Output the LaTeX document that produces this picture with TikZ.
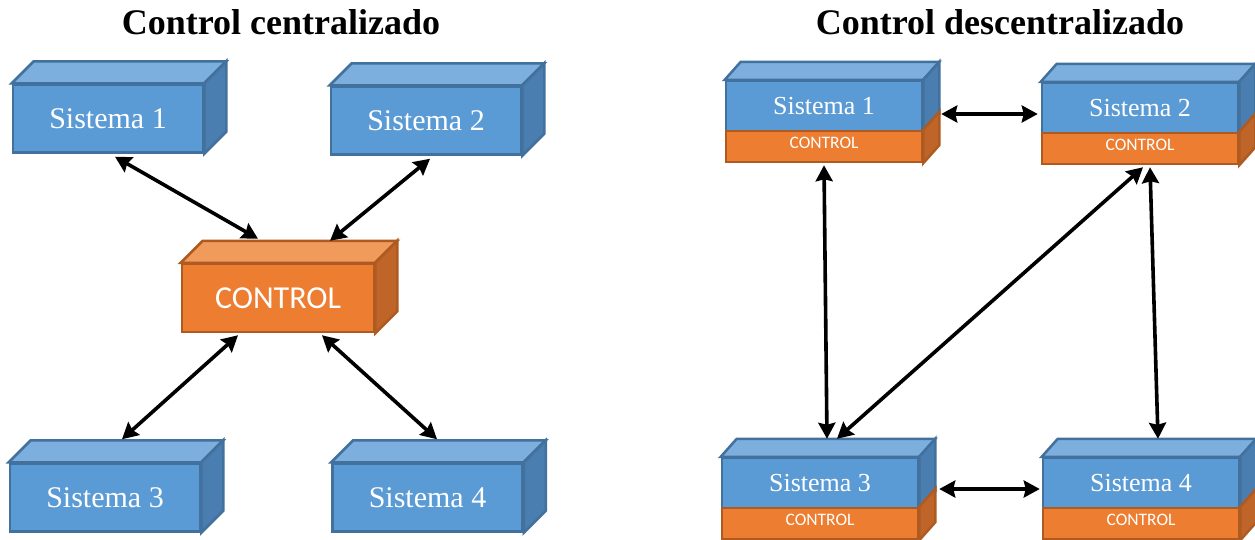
\documentclass[tikz,border=0pt]{standalone}
\usepackage{fontspec}
\setmainfont{Liberation Serif}
\newfontfamily\calibri{Carlito}
\usetikzlibrary{arrows.meta,positioning}

\definecolor{azul}{HTML}{5B9BD5}
\definecolor{azultapa}{HTML}{7CAEDE}
\definecolor{azullado}{HTML}{4A7EB0}
\definecolor{azulborde}{HTML}{41719C}
\definecolor{naranja}{HTML}{ED7D31}
\definecolor{naranjatapa}{HTML}{F09A5C}
\definecolor{naranjalado}{HTML}{C0652A}
\definecolor{naranjaborde}{HTML}{AE5A21}

\begin{document}
\begin{tikzpicture}[x=1pt, y=-1pt, thick,
    titulo/.style = {font=\bfseries\fontsize{36}{36}\selectfont},
    sis/.style = {draw=azulborde, fill=azul, line width=2.5pt, text=white,
      minimum width=190pt, minimum height=68pt, font=\fontsize{30}{30}\selectfont},
    ctl/.style = {draw=naranjaborde, fill=naranja, line width=2.5pt, text=white,
      minimum width=192pt, minimum height=68pt, font=\calibri\fontsize{32}{32}\selectfont},
    sisr/.style = {sis, minimum width=196pt, minimum height=50pt, font=\fontsize{26}{26}\selectfont},
    ctlr/.style = {ctl, minimum width=196pt, minimum height=31pt, text depth=7pt,
      font=\calibri\fontsize{17.5}{17.5}\selectfont},
    tapa/.style = {draw=#1borde, fill=#1tapa, line width=2.5pt},
    lado/.style = {draw=#1borde, fill=#1lado, line width=2.5pt},
    flecha/.style = {line width=3.6pt, {Stealth[length=16pt,width=17pt,inset=2pt]}-{Stealth[length=16pt,width=17pt,inset=2pt]}}]
  \useasboundingbox (0,0) rectangle (1255,539);

  \node[titulo] (t1) at (281,22) {Control centralizado};
  \node[titulo] (t2) at (1000,22) {Control descentralizado};

  % control centralizado
  \node[sis] (s1) at (108,118.5) {Sistema 1};
  \node[sis] (s2) at (426,120.5) {Sistema 2};
  \node[ctl] (ctl) at (278,298) {CONTROL};
  \node[sis] (s3) at (105,497.5) {Sistema 3};
  \node[sis] (s4) at (427.5,497.5) {Sistema 4};

  \foreach \n/\c in {s1/azul,s2/azul,ctl/naranja,s3/azul,s4/azul} {
    \draw[tapa=\c] (\n.north west) -- ++(22,-22) -- ([shift={(22,-22)}]\n.north east) -- (\n.north east) -- cycle;
    \draw[lado=\c] (\n.north east) -- ++(22,-22) -- ([shift={(22,-22)}]\n.south east) -- (\n.south east) -- cycle;
  }

  \draw[flecha] ([shift={(7,3)}]s1.south) -- ([shift={(-20,-24)}]ctl.north);
  \draw[flecha] ([shift={(4,3)}]s2.south) -- ([shift={(52,-22)}]ctl.north);
  \draw[flecha] ([shift={(-40,2)}]ctl.south) -- ([shift={(17,-23)}]s3.north);
  \draw[flecha] ([shift={(44,2)}]ctl.south) -- ([shift={(9.5,-23)}]s4.north);

  % control descentralizado
  \node[sisr] (d1) at (824,106) {Sistema 1};
  \node[sisr] (d2) at (1140,108) {Sistema 2};
  \node[sisr] (d3) at (820,483) {Sistema 3};
  \node[sisr] (d4) at (1141,483) {Sistema 4};
  \foreach \n in {1,...,4}
    \node[ctlr, below=-2.5pt of d\n] (c\n) {CONTROL};

  \foreach \n in {1,...,4} {
    \draw[tapa=azul] (d\n.north west) -- ++(16,-18) -- ([shift={(16,-18)}]d\n.north east) -- (d\n.north east) -- cycle;
    \draw[lado=azul] (d\n.north east) -- ++(16,-18) -- ([shift={(16,-18)}]d\n.south east) -- (d\n.south east) -- cycle;
    \draw[lado=naranja] (c\n.north east) -- ++(16,-18) -- ([shift={(16,-18)}]c\n.south east) -- (c\n.south east) -- cycle;
  }

  \draw[flecha] ([shift={(18,8)}]d1.east) -- ([shift={(-3,6)}]d2.west);
  \draw[flecha] ([shift={(20,6)}]d3.east) -- ([shift={(-2,6)}]d4.west);
  \draw[flecha] ([shift={(0,2)}]c1.south) -- ([shift={(7,-18)}]d3.north);
  \draw[flecha] ([shift={(3,2)}]c2.south) -- ([shift={(17,-18)}]d3.north);
  \draw[flecha] ([shift={(10,2)}]c2.south) -- ([shift={(17,-18)}]d4.north);
\end{tikzpicture}
\end{document}
